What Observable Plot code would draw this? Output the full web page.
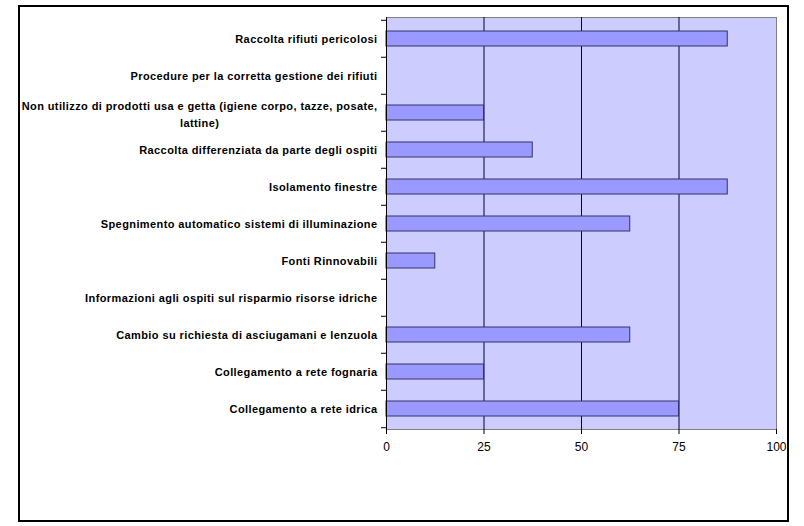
<!DOCTYPE html>
<html>
<head>
<meta charset="utf-8">
<script src="https://cdn.jsdelivr.net/npm/d3@7"></script>
<script src="https://cdn.jsdelivr.net/npm/@observablehq/plot@0.6"></script>
<style>
  html, body { margin: 0; padding: 0; background: #fff; }
  #wrap { position: relative; width: 804px; height: 526px; }
  #frame { position: absolute; left: 18px; top: 5px; width: 767px; height: 513px; border: 2px solid #000; }
  #chart { position: absolute; left: 0; top: 0; }
</style>
</head>
<body>
<div id="wrap"><div id="frame"></div><div id="chart"></div></div>
<script>
// Categories, top to bottom as drawn
const categories = [
  "Raccolta rifiuti pericolosi",
  "Procedure per la corretta gestione dei rifiuti",
  "Non utilizzo di prodotti usa e getta (igiene corpo, tazze, posate,\nlattine)",
  "Raccolta differenziata da parte degli ospiti",
  "Isolamento finestre",
  "Spegnimento automatico sistemi di illuminazione",
  "Fonti Rinnovabili",
  "Informazioni agli ospiti sul risparmio risorse idriche",
  "Cambio su richiesta di asciugamani e lenzuola",
  "Collegamento a rete fognaria",
  "Collegamento a rete idrica"
];
const values = [87.5, 0, 25, 37.5, 87.5, 62.5, 12.5, 0, 62.5, 25, 75];
const xTicks = [0, 25, 50, 75, 100];
const gridValues = [25, 50, 75];

const data = categories.map((c, i) => ({category: c, value: values[i]}));
const singleLine = data.filter(d => !d.category.includes("\n"));
const multiLine = data.filter(d => d.category.includes("\n"));

const W = 804, H = 526;
const mTop = 17, mBottom = 97, mLeft = 386, mRight = 28;
const band = (H - mTop - mBottom) / categories.length;
const LS = 0.4; // letter spacing px

const labelFont = "bold 11px 'Liberation Sans', Arial, sans-serif";
const ctx = document.createElement("canvas").getContext("2d");
ctx.font = labelFont;
function maxLineHalf(s) {
  const lines = s.split("\n");
  return Math.max(...lines.map(l => ctx.measureText(l).width + LS * l.length)) / 2;
}
const mlHalf = multiLine.length ? maxLineHalf(multiLine[0].category) : 0;

const topEdges = categories;
const bottomEdge = [categories[categories.length - 1]];

const chart = Plot.plot({
  width: W,
  height: H,
  marginTop: mTop,
  marginBottom: mBottom,
  marginLeft: mLeft,
  marginRight: mRight,
  style: {fontFamily: "'Liberation Sans', Arial, sans-serif", fontSize: "11px", color: "#000", background: "transparent"},
  x: {domain: [0, 100], ticks: xTicks, label: null},
  y: {domain: categories, paddingInner: 0.6, paddingOuter: 0.3, label: null, axis: null},
  marks: [
    Plot.frame({fill: "#ccccff", stroke: "#808080"}),
    Plot.ruleX(gridValues, {stroke: "#000033", strokeWidth: 1}),
    Plot.barX(data, {x: "value", y: "category", fill: "#9999ff", stroke: "#333366", strokeWidth: 1}),
    Plot.ruleX([0], {stroke: "#000", strokeWidth: 1}),
    Plot.ruleY([0], {frameAnchor: "bottom", stroke: "#000", strokeWidth: 1}),
    // y ticks at band boundaries
    Plot.ruleY(topEdges, {y: d => d, x1: 0, x2: 0, insetLeft: -5, dy: -band / 2, stroke: "#000"}),
    Plot.ruleY(bottomEdge, {y: d => d, x1: 0, x2: 0, insetLeft: -5, dy: band / 2, stroke: "#000"}),
    Plot.axisX({ticks: xTicks, tickSize: 5, tickPadding: 8, stroke: "#000", fontSize: 12, label: null}),
    Plot.text(singleLine, {x: 0, y: "category", text: "category", textAnchor: "end", dx: -9,
      fontWeight: "bold", fill: "#000", fontSize: 11}),
    Plot.text(multiLine, {x: 0, y: "category", text: "category", textAnchor: "middle", dx: -9 - mlHalf,
      lineHeight: 1.5, fontWeight: "bold", fill: "#000", fontSize: 11})
  ]
});
chart.querySelectorAll("text").forEach(t => {
  if (t.closest("[aria-label='text']")) t.style.letterSpacing = LS + "px";
});
document.getElementById("chart").appendChild(chart);
</script>
</body>
</html>
